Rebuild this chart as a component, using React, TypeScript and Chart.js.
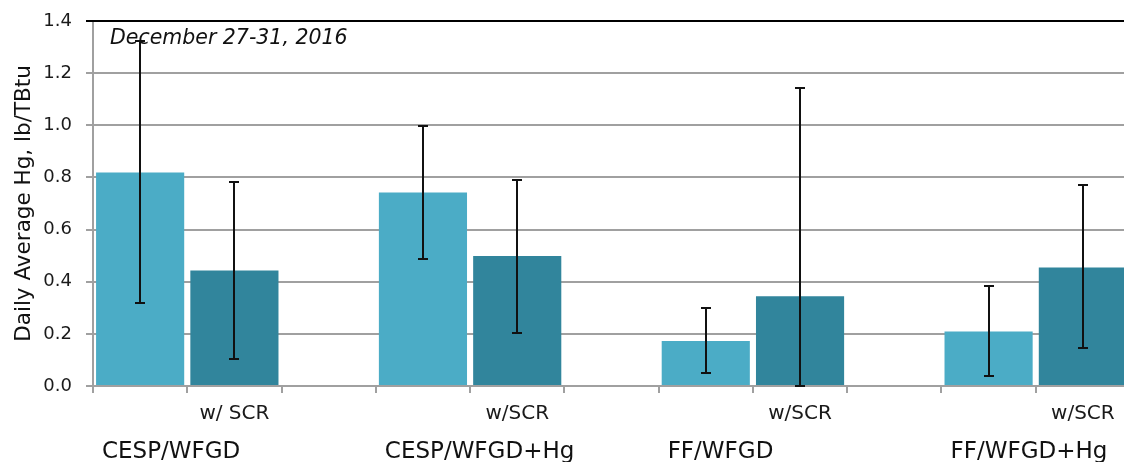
import React, { useEffect, useRef } from 'react';
import { Chart, registerables } from 'chart.js';

Chart.register(...registerables);

// ---- data ----
const groupNames = ['CESP/WFGD', 'CESP/WFGD+Hg', 'FF/WFGD', 'FF/WFGD+Hg'];
const scrLabels = ['w/ SCR', 'w/SCR', 'w/SCR', 'w/SCR'];
const baseValues = [0.819, 0.742, 0.173, 0.209];
const baseErrLow = [0.318, 0.487, 0.049, 0.037];
const baseErrHigh = [1.322, 0.996, 0.301, 0.383];
const scrValues = [0.443, 0.499, 0.344, 0.455];
const scrErrLow = [0.105, 0.202, 0.0, 0.145];
const scrErrHigh = [0.782, 0.79, 1.142, 0.771];
const yTickLabels = ['0.0', '0.2', '0.4', '0.6', '0.8', '1.0', '1.2', '1.4'];
const chartTitle = 'December 27-31, 2016';
const yAxisTitle = 'Daily Average Hg, lb/TBtu';

const LIGHT = '#4BACC6';
const DARK = '#31859C';
const GRID = '#a0a0a0';
const FONT = '"DejaVu Sans", sans-serif';

// build 11 slots: base, w/SCR, gap, ...
const slotLabels: string[] = [];
const slotValues: (number | null)[] = [];
const slotLow: (number | null)[] = [];
const slotHigh: (number | null)[] = [];
const slotColors: string[] = [];
groupNames.forEach((_, g) => {
  slotLabels.push('', scrLabels[g]);
  slotValues.push(baseValues[g], scrValues[g]);
  slotLow.push(baseErrLow[g], scrErrLow[g]);
  slotHigh.push(baseErrHigh[g], scrErrHigh[g]);
  slotColors.push(LIGHT, DARK);
  if (g < groupNames.length - 1) {
    slotLabels.push('');
    slotValues.push(null);
    slotLow.push(null);
    slotHigh.push(null);
    slotColors.push(LIGHT);
  }
});

const overlayPlugin = {
  id: 'overlay',
  afterDatasetsDraw(chart: any) {
    const { ctx, chartArea, scales } = chart;
    const x = scales.x;
    const y = scales.y;
    const meta = chart.getDatasetMeta(0);
    ctx.save();
    // error bars
    ctx.strokeStyle = '#111';
    ctx.lineWidth = 2;
    slotLow.forEach((lo, i) => {
      const hi = slotHigh[i];
      if (lo == null || hi == null) return;
      const px = Math.round(meta.data[i].x);
      const yt = Math.round(y.getPixelForValue(hi));
      const yb = Math.round(y.getPixelForValue(lo));
      ctx.beginPath();
      ctx.moveTo(px, yt);
      ctx.lineTo(px, yb);
      ctx.moveTo(px - 5, yt);
      ctx.lineTo(px + 5, yt);
      ctx.moveTo(px - 5, yb);
      ctx.lineTo(px + 5, yb);
      ctx.stroke();
    });
    // top border
    ctx.strokeStyle = '#000';
    ctx.lineWidth = 2;
    ctx.beginPath();
    ctx.moveTo(chartArea.left - 7, Math.round(chartArea.top));
    ctx.lineTo(chartArea.right, Math.round(chartArea.top));
    ctx.stroke();
    // inner title
    ctx.fillStyle = '#111';
    ctx.textAlign = 'left';
    ctx.textBaseline = 'alphabetic';
    ctx.font = 'italic 20.5px ' + FONT;
    ctx.fillText(chartTitle, chartArea.left + 17, 44);
    // group labels
    ctx.font = '23px ' + FONT;
    const half = (x.getPixelForValue(1) - x.getPixelForValue(0)) / 2;
    groupNames.forEach((name, g) => {
      const left = x.getPixelForValue(g * 3) - half;
      ctx.fillText(name, left + 9, 458);
    });
    ctx.restore();
  },
};

export default function App() {
  const ref = useRef<HTMLCanvasElement | null>(null);

  useEffect(() => {
    if (!ref.current) return;
    const chart = new Chart(ref.current, {
      type: 'bar',
      data: {
        labels: slotLabels,
        datasets: [
          {
            data: slotValues as any,
            backgroundColor: slotColors,
            borderWidth: 0,
            barPercentage: 0.935,
            categoryPercentage: 1,
          },
        ],
      },
      options: {
        responsive: false,
        animation: false,
        devicePixelRatio: 1,
        layout: { padding: { top: 21, right: 1, bottom: 0, left: 0 } },
        plugins: {
          legend: { display: false },
          tooltip: { enabled: false },
          title: { display: false },
        },
        scales: {
          x: {
            afterFit: (s: any) => {
              s.height = 76;
              s.paddingLeft = 0;
              s.paddingRight = 0;
            },
            grid: {
              display: true,
              drawOnChartArea: false,
              drawTicks: true,
              tickLength: 7,
              color: GRID,
              lineWidth: 2,
              offset: true,
            },
            border: { display: true, color: GRID, width: 2 },
            ticks: {
              autoSkip: false,
              maxRotation: 0,
              minRotation: 0,
              padding: 9,
              color: '#1a1a1a',
              font: { family: FONT, size: 20 },
            },
          },
          y: {
            min: 0,
            max: 1.4,
            afterFit: (s: any) => {
              s.width = 93;
              s.paddingTop = 0;
              s.paddingBottom = 0;
            },
            grid: {
              color: (c: any) =>
                Math.abs(c.tick.value - 1.4) < 1e-6 ? '#000' : GRID,
              lineWidth: 2,
              tickLength: 7,
              drawTicks: true,
            },
            border: { display: true, color: GRID, width: 2 },
            ticks: {
              stepSize: 0.2,
              padding: 14,
              color: '#1a1a1a',
              font: { family: FONT, size: 18 },
              callback: (_v: any, i: number) => yTickLabels[i],
            },
            title: {
              display: true,
              text: yAxisTitle,
              color: '#111',
              font: { family: FONT, size: 21.5 },
              padding: { top: 12, bottom: 0 },
            },
          },
        },
      },
      plugins: [overlayPlugin],
    });
    return () => chart.destroy();
  }, []);

  return (
    <div
      style={{
        position: 'fixed',
        left: 0,
        top: 0,
        width: 1124,
        height: 462,
        overflow: 'hidden',
        background: '#fff',
      }}
    >
      <canvas ref={ref} width={1131} height={462} style={{ display: 'block' }} />
    </div>
  );
}
